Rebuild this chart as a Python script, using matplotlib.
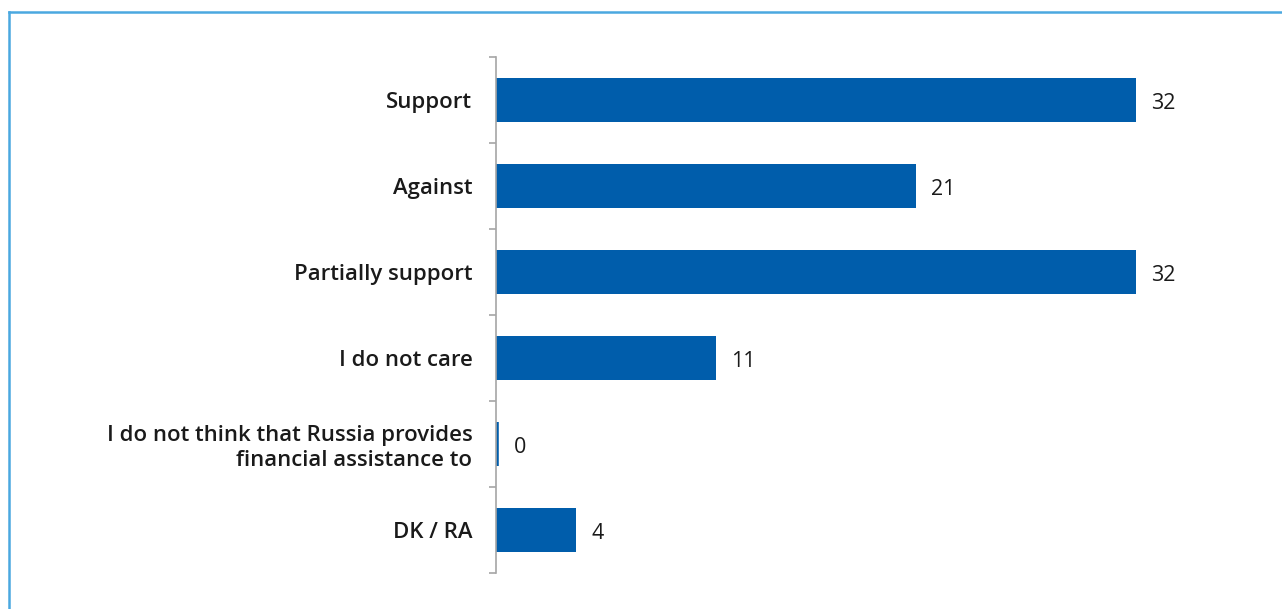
import numpy as np
import matplotlib.pyplot as plt
from matplotlib.lines import Line2D

# Survey answers and shares (%)
categories = ['Support', 'Against', 'Partially support', 'I do not care',
              'I do not think that Russia provides\nfinancial assistance to', 'DK / RA']
values = [32, 21, 32, 11, 0, 4]

bar_color = '#005dab'
text_color = '#1a1a1a'
axis_grey = '#a6a6a6'

plt.rcParams['font.family'] = ['Open Sans', 'DejaVu Sans']

fig = plt.figure(figsize=(12.82, 6.09), dpi=100)
ax = fig.add_axes([496 / 1282, 1 - 573 / 609, (1250 - 496) / 1282, (573 - 57) / 609])

y = np.arange(len(categories))
# zero-valued bars still get a thin visible edge
widths = [4.0 if v == 0 else 0 for v in values]
ax.barh(y, values, height=0.52, color=bar_color, edgecolor=bar_color, linewidth=widths)

for yi, v in zip(y, values):
    ax.annotate(str(v), (v, yi), xytext=(11 if v else 13, -2.5), textcoords='offset points',
                va='center', ha='left', fontsize=15.5, color=text_color)

ax.set_xlim(0, 37.7)
ax.set_ylim(len(categories) - 0.5, -0.5)
ax.set_yticks(y)
ax.set_yticklabels(categories, fontsize=15.9, fontweight='semibold', color=text_color,
                   linespacing=1.2)
ax.set_yticks(np.arange(-0.5, len(categories)), minor=True)
ax.tick_params(axis='y', which='major', length=0, pad=17)
ax.tick_params(axis='y', which='minor', length=5, width=1.2, color=axis_grey)
ax.set_xticks([])

for side in ['top', 'right', 'bottom']:
    ax.spines[side].set_visible(False)
ax.spines['left'].set_color(axis_grey)
ax.spines['left'].set_linewidth(1.2)

# light blue frame on the left and top edges
frame = '#4aa8e0'
fig.add_artist(Line2D([8.5 / 1282, 8.5 / 1282], [0, 1 - 11.5 / 609], transform=fig.transFigure,
                      color=frame, linewidth=1.8))
fig.add_artist(Line2D([8.5 / 1282, 1], [1 - 11.5 / 609, 1 - 11.5 / 609], transform=fig.transFigure,
                      color=frame, linewidth=1.8))

fig.savefig('out.png', dpi=100)
